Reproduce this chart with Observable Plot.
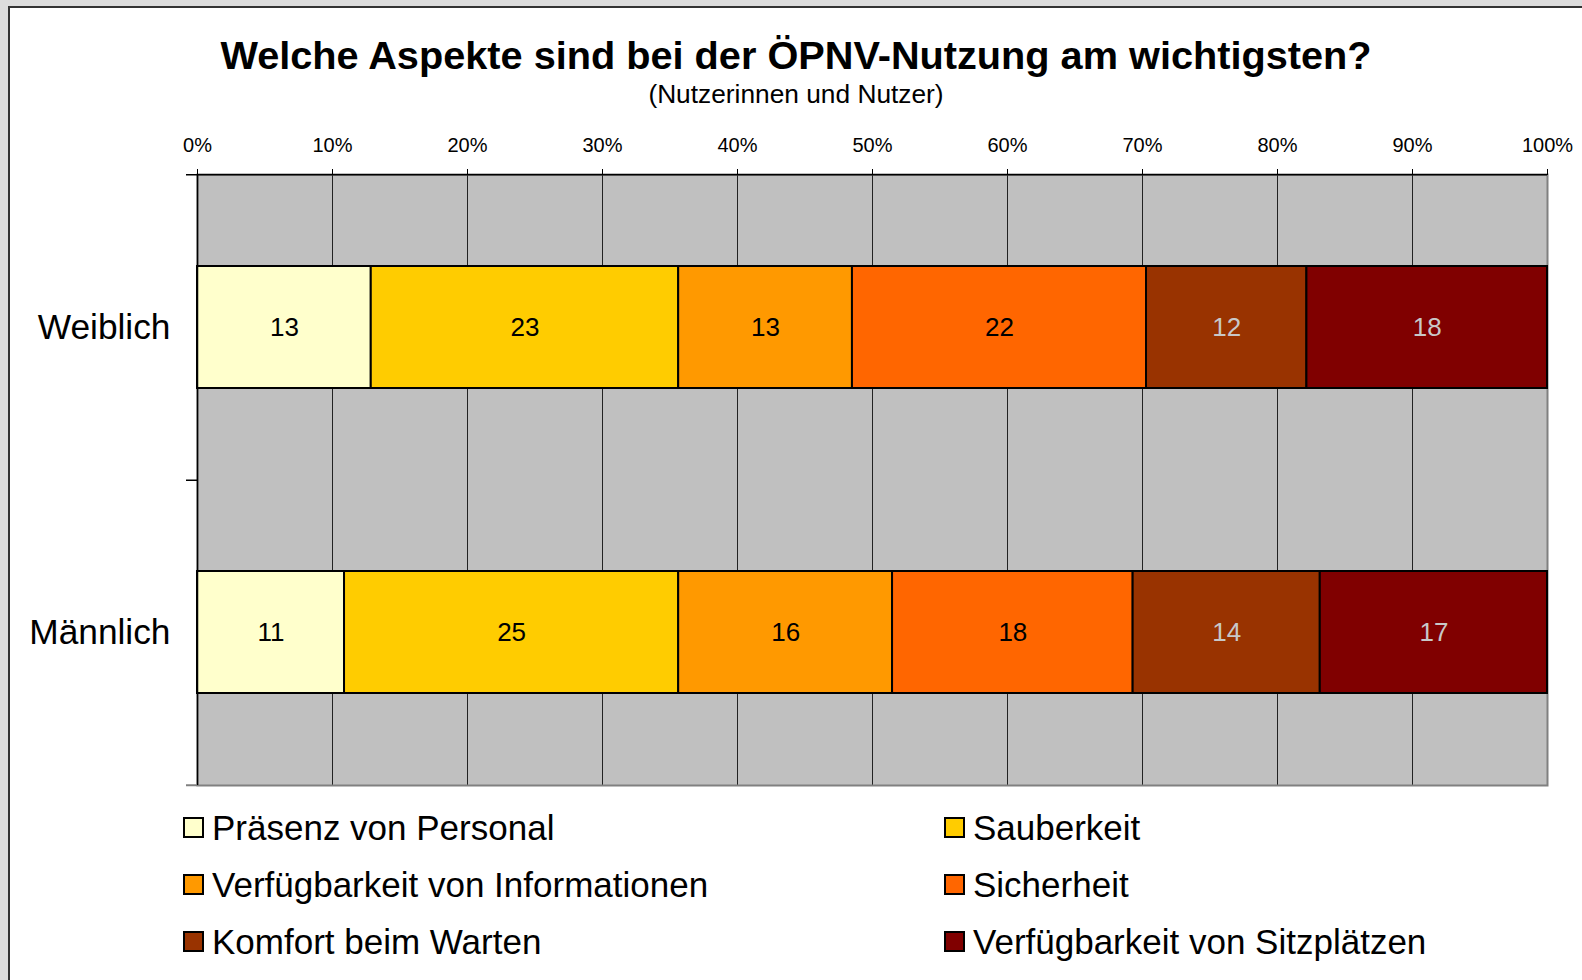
<!DOCTYPE html>
<html>
<head>
<meta charset="utf-8">
<script src="https://cdn.jsdelivr.net/npm/d3@7"></script>
<script src="https://cdn.jsdelivr.net/npm/@observablehq/plot@0.6"></script>
<style>
  html, body { margin: 0; padding: 0; width: 1582px; height: 980px; overflow: hidden; background: #dcdcdc; font-family: "Liberation Sans", Arial, sans-serif; }
  #panel { position: absolute; left: 8px; top: 6px; width: 1600px; height: 1000px; background: #fff; border-left: 2px solid #333; border-top: 2px solid #333; }
  #title { position: absolute; left: 0; top: 36px; width: 1592px; text-align: center; font-size: 39.7px; line-height: 39px; font-weight: bold; color: #000; }
  #subtitle { position: absolute; left: 0; top: 81px; width: 1592px; text-align: center; font-size: 26.3px; line-height: 26px; color: #000; }
  #chart { position: absolute; left: 0; top: 120px; }
  #legend { position: absolute; left: 183px; top: 799px; display: grid; grid-template-columns: 761px 500px; grid-auto-rows: 57px; }
  .item { display: flex; align-items: center; font-size: 35px; color: #000; white-space: nowrap; }
  .sw { width: 21px; height: 21px; box-sizing: border-box; border: 2px solid #000; margin-right: 8px; flex: none; }
</style>
</head>
<body>
<div id="panel"></div>
<div id="title">Welche Aspekte sind bei der ÖPNV-Nutzung am wichtigsten?</div>
<div id="subtitle">(Nutzerinnen und Nutzer)</div>
<div id="chart"></div>
<div id="legend"></div>
<script>
const genders = ["Weiblich", "Männlich"];
const aspects = [
  "Präsenz von Personal",
  "Sauberkeit",
  "Verfügbarkeit von Informationen",
  "Sicherheit",
  "Komfort beim Warten",
  "Verfügbarkeit von Sitzplätzen"
];
const weiblich = [13, 23, 13, 22, 12, 18];
const maennlich = [11, 25, 16, 18, 14, 17];
const tickValues = [0, 0.1, 0.2, 0.3, 0.4, 0.5, 0.6, 0.7, 0.8, 0.9, 1];
const tickLabels = ["0%", "10%", "20%", "30%", "40%", "50%", "60%", "70%", "80%", "90%", "100%"];

const palette = ["#FFFFCC", "#FFCC00", "#FF9900", "#FF6600", "#993300", "#800000"];
const lightLabelAspects = new Set([aspects[4], aspects[5]]);

const series = [weiblich, maennlich];
const rows = genders.flatMap((g, gi) => aspects.map((a, ai) => ({gender: g, aspect: a, value: series[gi][ai]})));

const W = 1582, H = 670, mT = 54, mB = 5, mL = 197, mR = 35;
const step = (H - mT - mB) / genders.length;

const stackOpts = (extra) => Plot.stackX({x: "value", y: "gender", z: "aspect", order: aspects, offset: "normalize", ...extra});

const chart = Plot.plot({
  width: W, height: H,
  marginTop: mT, marginBottom: mB, marginLeft: mL, marginRight: mR,
  style: {fontFamily: "'Liberation Sans', Arial, sans-serif", background: "transparent", overflow: "visible", color: "#000"},
  x: {domain: [0, 1], axis: null},
  y: {domain: genders, paddingInner: 0.6, paddingOuter: 0.3, axis: null},
  color: {domain: aspects, range: palette},
  marks: [
    Plot.frame({fill: "#c0c0c0"}),
    Plot.ruleX(tickValues.slice(1, -1), {stroke: "#222", strokeWidth: 1}),
    Plot.frame({stroke: "#808080", strokeWidth: 2}),
    Plot.barX(rows, stackOpts({fill: "aspect", stroke: "#000", strokeWidth: 2})),
    Plot.text(rows, stackOpts({text: d => lightLabelAspects.has(d.aspect) ? "" : String(d.value), fill: "#000", fontSize: 26})),
    Plot.text(rows, stackOpts({text: d => lightLabelAspects.has(d.aspect) ? String(d.value) : "", fill: "#c8c8c8", fontSize: 26})),
    Plot.ruleX([0], {stroke: "#000", strokeWidth: 1.5}),
    Plot.ruleY([genders[0]], {y: d => d, dy: -step / 2, x1: 0, x2: 1, insetLeft: -11, stroke: "#000", strokeWidth: 1.5}),
    Plot.ruleY([genders[0]], {y: d => d, dy: step / 2, x1: 0, x2: 0, insetLeft: -11, stroke: "#000", strokeWidth: 1.5}),
    Plot.ruleY([genders[1]], {y: d => d, dy: step / 2, x1: 0, x2: 0, insetLeft: -11, stroke: "#808080", strokeWidth: 2}),
    Plot.axisX({anchor: "top", ticks: tickValues, tickFormat: (d, i) => tickLabels[i], tickSize: 6, tickPadding: 17, fontSize: 20, label: null}),
    Plot.axisY({tickSize: 0, tickPadding: 27, fontSize: 35.3, label: null})
  ]
});
document.getElementById("chart").append(chart);

const legend = document.getElementById("legend");
aspects.forEach((a, i) => {
  const item = document.createElement("div");
  item.className = "item";
  const sw = document.createElement("span");
  sw.className = "sw";
  sw.style.background = palette[i];
  const label = document.createElement("span");
  label.textContent = a;
  item.append(sw, label);
  legend.append(item);
});
</script>
</body>
</html>
